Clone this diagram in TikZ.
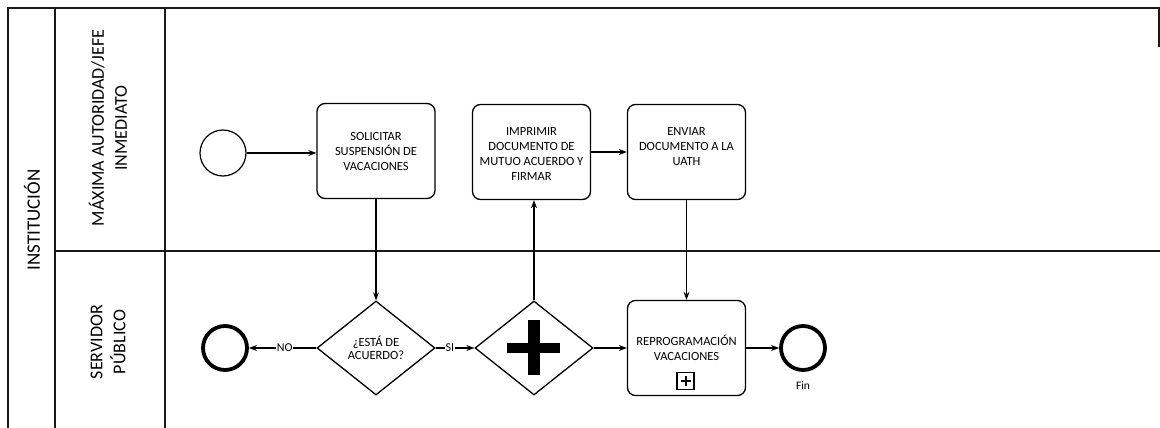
\documentclass[tikz,border=0pt]{standalone}
\usepackage{fontspec}
\setmainfont{Carlito}
\usetikzlibrary{arrows.meta,shapes.geometric}
\begin{document}
\begin{tikzpicture}[x=1pt,y=-1pt,
  poolline/.style={line width=1.6pt, draw=black!90},
  lanetitle/.style={rotate=90, align=center, font=\fontsize{18}{23}\selectfont},
  task/.style={draw, line width=1.3pt, rounded corners=8pt, minimum width=118pt,
               minimum height=95pt, inner sep=0pt},
  tasktext/.style={align=center, font=\fontsize{12.5}{15}\selectfont, inner sep=0pt},
  gate/.style={draw, diamond, line width=1.3pt, minimum width=118pt,
               minimum height=94pt, inner sep=0pt, align=center,
               font=\fontsize{12.5}{13.5}\selectfont},
  startev/.style={draw, circle, line width=1.2pt, minimum size=46pt, inner sep=0pt},
  endev/.style={draw, circle, line width=3.8pt, minimum size=44pt, inner sep=0pt},
  flow/.style={line width=1.1pt, -{Stealth[length=8pt,width=6pt]}},
  flowlbl/.style={fill=white, inner sep=1pt, font=\fontsize{12}{13}\selectfont},
  submark/.style={draw, line width=1.2pt, minimum size=17pt, inner sep=0pt}
]
\useasboundingbox (0,0) rectangle (1160,428);

% pool and lane frame
\draw[poolline] (8,428) -- (8,8) -- (1159,8) -- (1159,47);
\draw[poolline] (55,8) -- (55,428);
\draw[poolline] (165,8) -- (165,428);
\draw[poolline] (55,251) -- (1160,251);

% pool and lane titles
\node[lanetitle, font=\fontsize{19}{23}\selectfont] (pool) at (32,220) {INSTITUCIÓN};
\node[lanetitle] (laneA) at (108,128) {MÁXIMA AUTORIDAD/JEFE\\INMEDIATO};
\node[lanetitle] (laneB) at (108,342) {SERVIDOR\\PÚBLICO};

% upper lane
\node[startev] (start) at (223,153) {};
\node[task] (t1) at (376,151) {};
\node[tasktext] (t1txt) at (t1.center) {SOLICITAR\\SUSPENSIÓN DE\\VACACIONES};
\node[task] (t2) at (531.5,152) {};
\node[tasktext] (t2txt) at ([yshift=-2pt]t2.center) {IMPRIMIR\\DOCUMENTO DE\\MUTUO ACUERDO Y\\FIRMAR};
\node[task] (t3) at (686.5,152) {};
\node[tasktext] (t3txt) at ([yshift=5pt]t3.center) {ENVIAR\\DOCUMENTO A LA\\UATH};

% lower lane
\node[endev] (endno) at (225,348) {};
\node[gate] (d1) at (376,348) {¿ESTÁ DE\\ACUERDO?};
\node[gate] (g1) at (534,348) {};
\fill ([xshift=-27pt,yshift=-5pt]g1.center) rectangle ([xshift=26pt,yshift=5pt]g1.center);
\fill ([xshift=-6pt,yshift=-27pt]g1.center) rectangle ([xshift=6pt,yshift=28pt]g1.center);
\node[task] (t4) at (686.5,348) {};
\node[tasktext] (t4txt) at (t4.center) {REPROGRAMACIÓN\\VACACIONES};
\node[submark] (t4mark) at (685.5,381) {};
\fill ([xshift=-5pt,yshift=-1pt]t4mark.center) rectangle ([xshift=5pt,yshift=1pt]t4mark.center);
\fill ([xshift=-1pt,yshift=-5pt]t4mark.center) rectangle ([xshift=1pt,yshift=5pt]t4mark.center);
\node[endev] (fin) at (803,348) {};
\node[font=\fontsize{11.5}{12}\selectfont, anchor=north] (finlbl) at ([yshift=-6pt]fin.south) {Fin};

% sequence flows
\draw[flow] (start.east) -- (start.east -| t1.west);
\draw[flow] (t1.south) -- (d1.north);
\draw[flow] (d1.west) -- node[flowlbl, pos=0.47] {NO} (endno.east);
\draw[flow] (d1.east) -- node[flowlbl, pos=0.37] {SI} (g1.west);
\draw[flow] (g1.north) -- (g1.north |- t2.south);
\draw[flow] (t2.east) -- (t3.west);
\draw[flow] (t3.south) -- (t4.north);
\draw[flow] (g1.east) -- (t4.west);
\draw[flow] (t4.east) -- (fin.west);
\end{tikzpicture}
\end{document}
